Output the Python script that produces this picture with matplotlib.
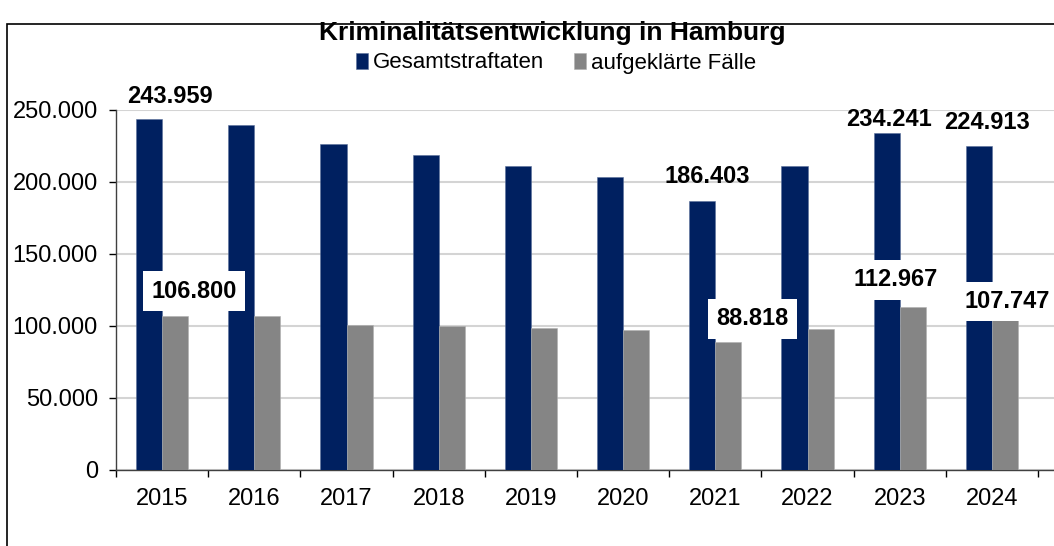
import numpy as np
import matplotlib
matplotlib.use('Agg')
import matplotlib.pyplot as plt
from matplotlib.patches import Rectangle

# =========================
# DATA
# =========================
years = ['2015', '2016', '2017', '2018', '2019', '2020', '2021', '2022', '2023', '2024']
total_cases = [243959, 239500, 226100, 218500, 210800, 203600, 186403, 211300, 234241, 224913]
solved_cases = [106800, 106900, 100500, 100000, 98400, 97200, 88818, 97700, 112967, 107747]

# which bars carry a value label (index -> label)
total_labels = {0: '243.959', 6: '186.403', 8: '234.241', 9: '224.913'}
solved_labels = {0: '106.800', 6: '88.818', 8: '112.967', 9: '107.747'}

y_ticks = [0, 50000, 100000, 150000, 200000, 250000]
y_ticklabels = ['0', '50.000', '100.000', '150.000', '200.000', '250.000']

# =========================
# STYLE
# =========================
NAVY = '#002060'
GRAY = '#858585'
GRID_COLOR = '#D4D4D4'
FONT = 'Liberation Sans'
LABEL_SIZE = 17
TICK_SIZE = 17

plt.rcParams['font.family'] = FONT

fig = plt.figure(figsize=(10.54, 5.46), dpi=100)
ax = fig.add_axes([116 / 1054, 1 - 469.5 / 546, 938 / 1054, (469.5 - 110) / 546])

# outer chart frame (only top and left visible)
fig.patches.append(Rectangle((7 / 1054, -0.5), 1.2, 1.5 - 24 / 546, transform=fig.transFigure,
                             fill=False, edgecolor='black', linewidth=1.2))

x = np.arange(len(years))
bw = 0.282

ax.bar(x - bw / 2, total_cases, width=bw, color=NAVY, edgecolor='#5A6F9A', linewidth=0.4,
       label='Gesamtstraftaten', zorder=3)
ax.bar(x + bw / 2, solved_cases, width=bw, color=GRAY, edgecolor='#B0B0B0', linewidth=0.4,
       label='aufgeklärte Fälle', zorder=3)

# label placement (offset from category centre, y in data units)
total_pos = {0: (0.086, 259700), 6: (-0.09, 204100), 8: (-0.116, 243050), 9: (-0.053, 240960)}
solved_pos = {0: (0.35, 124100), 6: (0.40, 104700), 8: (-0.04, 131800), 9: (0.17, 116700)}

for i, txt in total_labels.items():
    dx, py = total_pos[i]
    ax.text(x[i] + dx, py, txt, ha='center', va='center', fontsize=LABEL_SIZE,
            fontweight='bold', color='black', zorder=5)

# labels for the solved cases, white box behind
for i, txt in solved_labels.items():
    dx, py = solved_pos[i]
    ax.text(x[i] + dx, py, txt, ha='center', va='center', fontsize=LABEL_SIZE, fontweight='bold',
            color='black', zorder=6,
            bbox=dict(boxstyle='square,pad=0.35', facecolor='white', edgecolor='none'))

ax.set_ylim(0, 250000)
ax.set_xlim(-0.5, -0.5 + 938 / 92.2)
ax.set_yticks(y_ticks)
ax.set_yticklabels(y_ticklabels)
ax.set_xticks(x)
ax.set_xticklabels(years)
ax.set_xticks(np.arange(-0.5, 10, 1.0), minor=True)

ax.tick_params(axis='x', which='major', length=0, pad=13, labelsize=TICK_SIZE)
ax.tick_params(axis='x', which='minor', length=5, direction='out', width=1)
ax.tick_params(axis='y', length=5, direction='out', width=1, pad=8, labelsize=TICK_SIZE)

ax.grid(axis='y', color=GRID_COLOR, linewidth=1.5, zorder=0)
ax.set_axisbelow(True)

for side in ['top', 'right']:
    ax.spines[side].set_visible(False)
ax.spines['left'].set_color('#404040')
ax.spines['bottom'].set_color('#404040')
ax.spines['left'].set_linewidth(1)
ax.spines['bottom'].set_linewidth(1)

fig.text(552 / 1054, 1 - 33 / 546, 'Kriminalitätsentwicklung in Hamburg', ha='center', va='center',
         fontsize=19, fontweight='bold')
fig.legend(loc='center', bbox_to_anchor=(556 / 1054, 1 - 63 / 546), ncol=2, frameon=False,
           fontsize=16, handlelength=0.55, handleheight=0.7, handletextpad=0.25, columnspacing=1.3,
           borderpad=0, borderaxespad=0)

plt.savefig('out.png', dpi=100)
